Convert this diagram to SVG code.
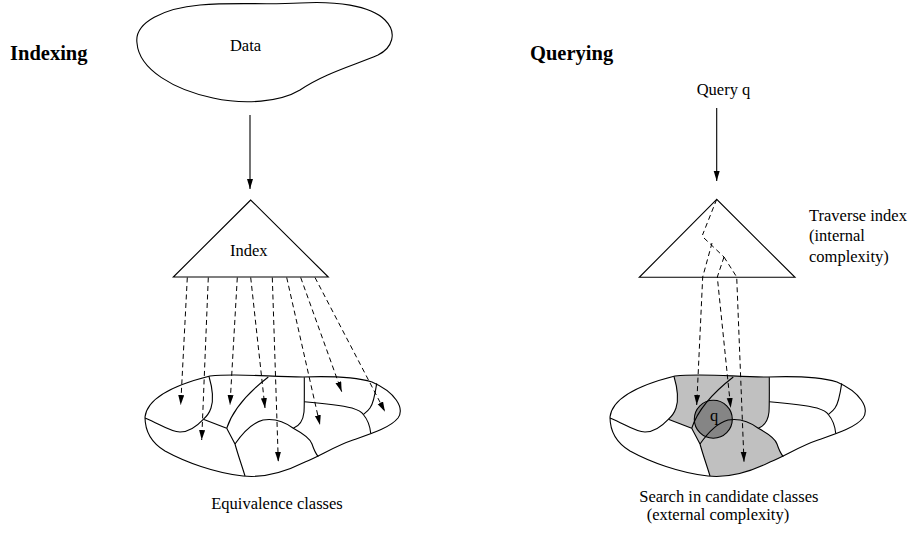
<svg xmlns="http://www.w3.org/2000/svg" xmlns:xlink="http://www.w3.org/1999/xlink" width="912" height="535" viewBox="0 0 912 535">
<style>
  .t { font-family: "Liberation Serif", "Times New Roman", serif; font-size: 16.5px; fill: #000; }
  .h { font-family: "Liberation Serif", "Times New Roman", serif; font-size: 20.5px; font-weight: bold; fill: #000; }
  .ln { fill: none; stroke: #000; stroke-width: 1.1; }
  .sh { fill: #fff; stroke: #000; stroke-width: 1.1; }
  .arr { fill: none; stroke: #000; stroke-width: 1.1; marker-end: url(#ah); }
  .dash { fill: none; stroke: #000; stroke-width: 1; stroke-dasharray: 5 3.5; }
  .darr { fill: none; stroke: #000; stroke-width: 1; stroke-dasharray: 5 3.5; marker-end: url(#ah); }
  .gray { fill: #c0c0c0; stroke: none; }
</style>
<defs>
  <marker id="ah" markerUnits="userSpaceOnUse" markerWidth="11" markerHeight="7" refX="10" refY="3" orient="auto">
    <path d="M0,0 L10,3 L0,6 Z" fill="#000"/>
  </marker>
  <path id="blobOutline" d="M145,417 C147,400 170,386 210,376 C240,373 270,377 303,377 C330,376 355,377 372,382 C395,392 405,408 398,418 C390,428 370,434 353,440 C335,446 320,456 305,462 C285,472 262,478 243,476 C215,473 185,462 165,451 C150,442 145,430 145,417 Z"/>
  <clipPath id="blobClip"><use xlink:href="#blobOutline"/></clipPath>
  <g id="cells">
    <use xlink:href="#blobOutline" class="ln"/>
    <path class="ln" d="M209,376.5 C213,390 213,402 211,408 C209,414 206,417 203.3,419.3"/>
    <path class="ln" d="M145,418 C160,424 170,432 180,432 C190,432 198,425 203.3,419.3"/>
    <path class="ln" d="M203.3,419.3 L226.7,428.3"/>
    <path class="ln" d="M226.7,428.3 C232,412 245,395 268.3,377"/>
    <path class="ln" d="M226.7,428.3 L235,444 C238,455 242,466 245,476"/>
    <path class="ln" d="M235,444 C242,434 252,423 263,420 C275,418 285,422 293.3,428.3 C302,433 310,438 312,444 C314,450 316,454 318.3,456.7"/>
    <path class="ln" d="M304.3,377.3 C304.3,390 304.5,405 304,412 C303,422 299,426 293.3,428.3"/>
    <path class="ln" d="M304.3,401.7 C320,403 340,405 352,408 C358,410 362,412 363.3,414.5 C368,420 370,426 370.7,433.3"/>
    <path class="ln" d="M376.7,383.3 C375,395 373,404 370,408 C368,411 365,413 363.3,414.5"/>
  </g>
</defs>

<g id="title-indexing"><text class="h" x="10" y="60">Indexing</text></g>
<g id="title-querying"><text class="h" x="530" y="60">Querying</text></g>

<g id="data">
  <path class="sh" d="M137,43 C134,22 165,8 200,5 C235,2 265,5 300,3 C335,1 370,5 385,20 C398,33 392,48 378,55 C355,65 325,73 300,90 C280,102 245,105 213,98 C175,90 139,70 137,43 Z"/>
  <text class="t" x="245.5" y="51" text-anchor="middle">Data</text>
</g>

<g id="index">
  <path class="sh" d="M250.7,200 L173.3,277 L328.3,277 Z"/>
  <text class="t" x="248.7" y="256" text-anchor="middle">Index</text>
</g>

<g id="classes">
  <use xlink:href="#cells"/>
  <text class="t" x="277" y="509" text-anchor="middle">Equivalence classes</text>
</g>

<g id="query">
  <text class="t" x="696.7" y="95">Query q</text>
</g>

<g id="query-index">
  <path class="sh" d="M716.7,199.3 L639.3,277.3 L795,277.3 Z"/>
  <text class="t" x="809" y="220.5">Traverse index</text>
  <text class="t" x="809" y="241">(internal</text>
  <text class="t" x="809" y="261.5">complexity)</text>
</g>

<g id="candidate-classes">
  <g transform="translate(465,0)">
    <g clip-path="url(#blobClip)">
      <path class="gray" d="M209,370 L268.3,370 L268.3,377 C245,395 232,412 226.7,428.3 L203.3,419.3 C206,417 209,414 211,408 C213,402 213,390 209,376.5 Z"/>
      <path class="gray" d="M268.3,370 L304.3,370 L304.3,377.3 C304.3,390 304.5,405 304,412 C303,422 299,426 293.3,428.3 C285,422 275,418 263,420 C252,423 242,434 235,444 L226.7,428.3 C232,412 245,395 268.3,377 Z"/>
      <path class="gray" d="M235,444 C242,434 252,423 263,420 C275,418 285,422 293.3,428.3 C302,433 310,438 312,444 C314,450 316,454 318.3,456.7 L330,495 L240,495 L245,476 C242,466 238,455 235,444 Z"/>
    </g>
    <circle cx="248.3" cy="419.3" r="19" fill="#858585" stroke="#000" stroke-width="1.1"/>
    <use xlink:href="#cells"/>
    <text class="t" x="249" y="421" text-anchor="middle" font-size="15">q</text>
  </g>
  <text class="t" x="639.3" y="502">Search in candidate classes</text>
  <text class="t" x="646.7" y="520">(external complexity)</text>
</g>

<g id="connectors">
  <path class="arr" d="M250,115 L250,189"/>
  <path class="arr" d="M716.7,108 L716.7,181"/>
  <path class="darr" d="M187.3,277.5 L180.7,405"/>
  <path class="darr" d="M208.3,277.5 L201.7,440"/>
  <path class="darr" d="M237.3,277.5 L230,405"/>
  <path class="darr" d="M250.7,277.5 L265,408"/>
  <path class="darr" d="M272.3,277.5 L278.3,461.7"/>
  <path class="darr" d="M286.7,277.5 L320,425"/>
  <path class="darr" d="M300.7,277.5 L341.7,391.7"/>
  <path class="darr" d="M315,277.5 L385,411.7"/>
  <path class="dash" d="M716.7,199.3 L702.5,235"/>
  <path class="dash" d="M704,238 L724,257"/>
  <path class="darr" d="M712,243 L702.7,277 L696.7,405"/>
  <path class="darr" d="M724,257 L717.3,277 L730.7,408"/>
  <path class="darr" d="M724,257 L736.7,277 L744,461.7"/>
</g>
</svg>
